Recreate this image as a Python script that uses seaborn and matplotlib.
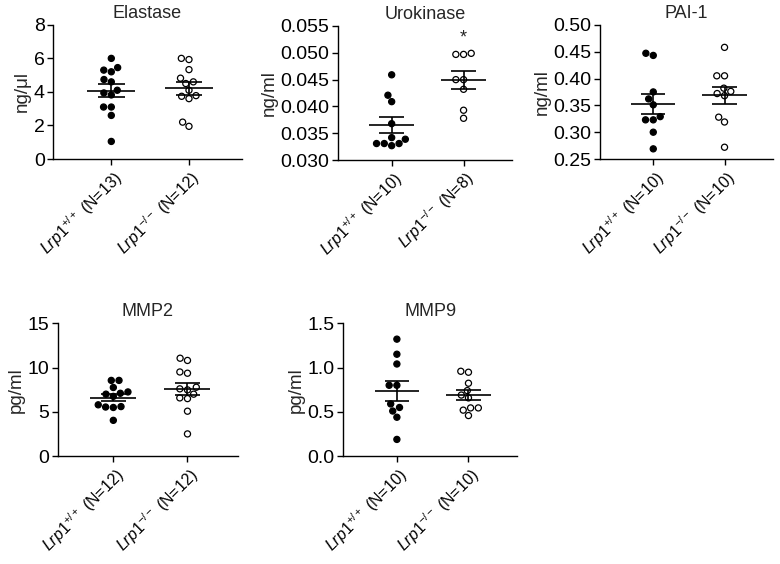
import numpy as np
import pandas as pd
import matplotlib
matplotlib.use('Agg')
import matplotlib.pyplot as plt
import seaborn as sns

sns.set_style('ticks')
plt.rcParams['font.family'] = ['Liberation Sans', 'DejaVu Sans']
plt.rcParams['mathtext.fontset'] = 'custom'
plt.rcParams['mathtext.rm'] = 'Liberation Sans'
plt.rcParams['mathtext.it'] = 'Liberation Sans:italic'

# values (wild type = filled, knockout = open)
elastase_wt = [6.0, 5.45, 5.3, 5.2, 4.74, 4.6, 4.1, 3.94, 3.82, 3.1, 3.1, 2.6, 1.05]
elastase_ko = [6.0, 5.93, 5.33, 4.82, 4.6, 4.5, 4.1, 3.78, 3.74, 3.6, 2.2, 1.95]
uro_wt = [0.0459, 0.0421, 0.0409, 0.0368, 0.0342, 0.0339, 0.0331, 0.0331, 0.0331, 0.0327]
uro_ko = [0.0499, 0.0497, 0.0497, 0.0450, 0.0450, 0.0432, 0.0393, 0.0378]
pai_wt = [0.447, 0.443, 0.375, 0.362, 0.351, 0.329, 0.323, 0.323, 0.300, 0.269]
pai_ko = [0.458, 0.405, 0.405, 0.382, 0.376, 0.372, 0.368, 0.328, 0.319, 0.272]
mmp2_wt = [8.55, 8.55, 7.75, 7.25, 7.1, 7.0, 6.75, 5.8, 5.6, 5.55, 5.5, 4.05]
mmp2_ko = [11.05, 10.8, 9.5, 9.36, 7.78, 7.6, 7.48, 7.0, 6.58, 6.5, 5.08, 2.52]
mmp9_wt = [1.32, 1.15, 1.04, 0.80, 0.80, 0.59, 0.55, 0.51, 0.44, 0.19]
mmp9_ko = [0.958, 0.947, 0.823, 0.74, 0.69, 0.658, 0.545, 0.545, 0.52, 0.459]

titles = ['Elastase', 'Urokinase', 'PAI-1', 'MMP2', 'MMP9']
units = ['ng/μl', 'ng/ml', 'ng/ml', 'pg/ml', 'pg/ml']
ylims = [(0, 8), (0.030, 0.055), (0.25, 0.50), (0, 15), (0, 1.5)]
ysteps = [2, 0.005, 0.05, 5, 0.5]
yfmt = ['%d', '%.3f', '%.2f', '%d', '%.1f']
data = [(elastase_wt, elastase_ko), (uro_wt, uro_ko), (pai_wt, pai_ko),
        (mmp2_wt, mmp2_ko), (mmp9_wt, mmp9_ko)]

# axes boxes in figure fractions
boxes = [[0.068, 0.718, 0.242, 0.238],
         [0.433, 0.716, 0.224, 0.238],
         [0.769, 0.718, 0.222, 0.238],
         [0.074, 0.191, 0.231, 0.236],
         [0.440, 0.191, 0.223, 0.236]]

fig = plt.figure(figsize=(7.8, 5.64), dpi=100)

for i in range(5):
    ax = fig.add_axes(boxes[i])
    wt, ko = data[i]
    g1 = r'$\mathit{Lrp1}^{+/+}$ (N=%d)' % len(wt)
    g2 = r'$\mathit{Lrp1}^{-/-}$ (N=%d)' % len(ko)
    df = pd.DataFrame({'group': [g1] * len(wt) + [g2] * len(ko), 'value': wt + ko})
    sns.swarmplot(data=df, x='group', y='value', hue='group', order=[g1, g2],
                  palette={g1: 'black', g2: 'white'}, edgecolor='black',
                  linewidth=0.9, size=4.4, legend=False, ax=ax)
    # mean +/- SEM
    for pos, vals in enumerate([wt, ko]):
        m = np.mean(vals)
        se = np.std(vals, ddof=1) / np.sqrt(len(vals))
        ax.hlines(m, pos - 0.31, pos + 0.31, color='black', lw=1.2, zorder=5)
        ax.hlines([m - se, m + se], pos - 0.17, pos + 0.17, color='black', lw=1.2, zorder=5)
        ax.vlines(pos, m - se, m + se, color='black', lw=1.2, zorder=5)
    lo, hi = ylims[i]
    ax.set_ylim(lo, hi)
    ticks = np.arange(lo, hi + ysteps[i] / 2, ysteps[i])
    ax.set_yticks(ticks)
    ax.set_yticklabels([yfmt[i] % t for t in ticks], fontsize=14)
    ax.set_xlim(-0.75, 1.68)
    ax.set_xticks([0, 1])
    ax.set_xticklabels([g1, g2], rotation=45, ha='right', rotation_mode='anchor', fontsize=11.5)
    ax.set_xlabel('')
    ax.set_ylabel(units[i], fontsize=13.5, labelpad=2)
    ax.set_title(titles[i], fontsize=13, pad=5)
    ax.tick_params(direction='out', length=4, width=1, colors='black', pad=2)
    for s in ['left', 'bottom']:
        ax.spines[s].set_linewidth(1)
        ax.spines[s].set_color('black')
    sns.despine(ax=ax)
    if titles[i] == 'Urokinase':
        ax.text(1, 0.0519, '*', ha='center', va='baseline', fontsize=13)

plt.savefig('out.png', dpi=100)
